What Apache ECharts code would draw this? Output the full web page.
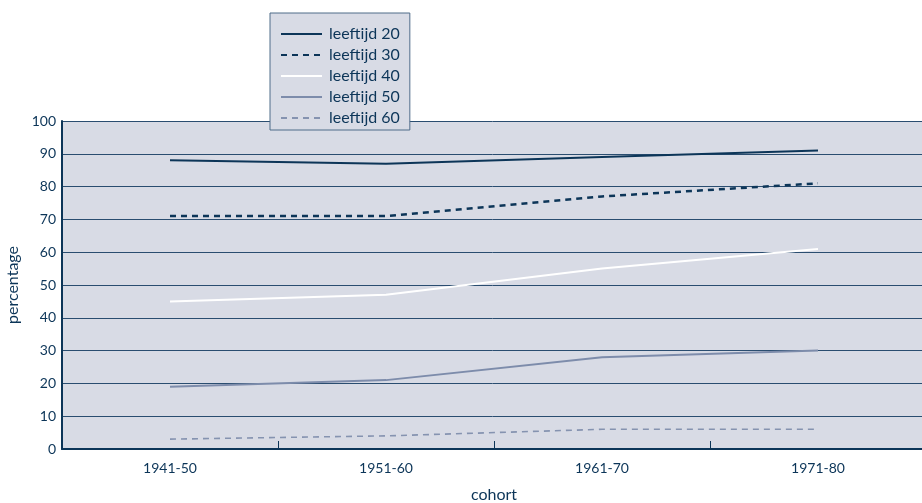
<!DOCTYPE html>
<html><head><meta charset="utf-8">
<script src="https://cdn.jsdelivr.net/npm/echarts@6/dist/echarts.min.js"></script>
<style>html,body{margin:0;padding:0;background:#fff}#c{width:922px;height:503px}</style>
</head><body><div id="c"></div>
<script>
const categories = ['1941-50', '1951-60', '1961-70', '1971-80'];
const leeftijd20 = [88, 87, 89, 91];
const leeftijd30 = [71, 71, 77, 81];
const leeftijd40 = [45, 47, 55, 61];
const leeftijd50 = [19, 21, 28, 30];
const leeftijd60 = [3, 4, 6, 6];
const seriesNames = ['leeftijd 20', 'leeftijd 30', 'leeftijd 40', 'leeftijd 50', 'leeftijd 60'];

const navy = '#0c3558';
const font = 'Lato';
const chart = echarts.init(document.getElementById('c'), null, {renderer: 'canvas'});
function mk(name, data, color, width, type) {
  return {name, type: 'line', data, symbol: 'none', showSymbol: false, smooth: false,
    lineStyle: {color, width, type}, itemStyle: {color}, z: 3};
}
chart.setOption({
  animation: false,
  textStyle: {fontFamily: font},
  grid: {left: 62, right: -4, top: 121, bottom: 54, show: true, backgroundColor: '#d8dbe5', borderWidth: 0,
    outerBoundsMode: 'none', containLabel: false},
  legend: {
    orient: 'vertical', left: 270, top: 13,
    backgroundColor: '#d8dbe5', borderColor: '#4f6c89', borderWidth: 1,
    padding: [13, 10, 4, 10], itemGap: 5, itemWidth: 41, itemHeight: 14,
    itemStyle: {opacity: 0},
    textStyle: {fontFamily: font, fontSize: 16, color: navy, padding: [0, 0, 0, 2]},
    data: seriesNames, z: 10
  },
  xAxis: {
    type: 'category', data: categories, boundaryGap: true,
    name: 'cohort', nameLocation: 'middle', nameGap: 38,
    nameTextStyle: {fontFamily: font, fontSize: 16, color: navy},
    axisLine: {show: true, lineStyle: {color: navy, width: 2}},
    axisTick: {show: true, inside: true, length: 8, lineStyle: {color: navy, width: 1}},
    axisLabel: {fontFamily: font, fontSize: 14, color: navy, margin: 12},
    splitLine: {show: false}
  },
  yAxis: {
    type: 'value', min: 0, max: 100, interval: 10,
    name: 'percentage', nameLocation: 'middle', nameGap: 40, nameRotate: 90,
    nameTextStyle: {fontFamily: font, fontSize: 16, color: navy},
    axisLine: {show: true, lineStyle: {color: navy, width: 2}},
    axisTick: {show: false},
    axisLabel: {fontFamily: font, fontSize: 14, color: navy, margin: 6},
    splitLine: {show: true, lineStyle: {color: '#2a4d70', width: 1}}
  },
  series: [
    mk(seriesNames[0], leeftijd20, navy, 2, 'solid'),
    mk(seriesNames[1], leeftijd30, navy, 2.5, [6, 5]),
    mk(seriesNames[2], leeftijd40, '#ffffff', 2, 'solid'),
    mk(seriesNames[3], leeftijd50, '#7d8cab', 2, 'solid'),
    mk(seriesNames[4], leeftijd60, '#8593b0', 1.6, [6, 5])
  ]
});
</script></body></html>
